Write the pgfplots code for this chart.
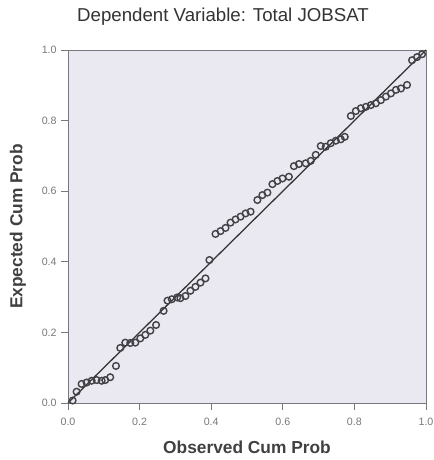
\documentclass[border=0pt]{standalone}
\usepackage{fontspec}
\setmainfont{Liberation Sans}
\usepackage{pgfplots}
\pgfplotsset{compat=1.18}
\definecolor{plotbg}{RGB}{234,232,240}
\definecolor{markc}{RGB}{65,65,70}
\definecolor{tickc}{RGB}{120,120,125}

\begin{document}
\begin{tikzpicture}
\begin{axis}[
  scale only axis,
  width=268.5pt, height=264.75pt,
  xmin=0, xmax=1, ymin=0, ymax=1,
  xtick={0,0.2,...,1.0}, ytick={0,0.2,...,1.0},
  xticklabel style={/pgf/number format/fixed,/pgf/number format/fixed zerofill,/pgf/number format/precision=1, yshift=-3pt},
  yticklabel style={/pgf/number format/fixed,/pgf/number format/fixed zerofill,/pgf/number format/precision=1},
  /pgf/number format/assume math mode=true,
  ticklabel style={font=\fontsize{8}{9}\selectfont, text=tickc},
  tick align=outside, xtick pos=bottom, ytick pos=left,
  major tick length=5pt,
  tick style={tickc, line width=0.6pt},
  axis line style={tickc, line width=0.6pt},
  axis background/.style={fill=plotbg},
  title={Dependent Variable: Total JOBSAT},
  title style={font=\fontsize{14}{16}\selectfont, text=black!80, at={(axis description cs:0.433,1)}, anchor=base, yshift=15pt},
  xlabel={\textbf{Observed Cum Prob}},
  ylabel={\textbf{Expected Cum Prob}},
  label style={font=\fontsize{13}{15}\selectfont, text=black!75},
  xlabel style={at={(axis description cs:0.5,-0.125)}, anchor=center},
  ylabel style={at={(axis description cs:-0.14,0.5)}, anchor=center},
  clip=false,
]
\addplot[color=black!80, line width=0.95pt] coordinates {(0,0) (1,1)};
\addplot[only marks, mark=o, mark size=2.5pt, mark options={draw=markc, line width=1.05pt}] coordinates {
(0.013,0.007) (0.024,0.032) (0.038,0.054) (0.052,0.058) (0.066,0.063)
(0.080,0.065) (0.094,0.063) (0.104,0.065) (0.118,0.073) (0.134,0.105)
(0.146,0.156) (0.160,0.171) (0.174,0.170) (0.188,0.171) (0.202,0.183)
(0.216,0.193) (0.230,0.205) (0.246,0.221) (0.267,0.261) (0.278,0.290)
(0.290,0.294) (0.305,0.299) (0.314,0.297) (0.328,0.303) (0.342,0.318)
(0.356,0.329) (0.370,0.341) (0.384,0.353) (0.395,0.405) (0.412,0.479)
(0.426,0.487) (0.440,0.496) (0.454,0.511) (0.468,0.520) (0.482,0.528)
(0.496,0.537) (0.510,0.542) (0.529,0.575) (0.543,0.589) (0.557,0.596)
(0.571,0.620) (0.585,0.629) (0.599,0.636) (0.617,0.641) (0.631,0.671)
(0.645,0.677) (0.664,0.679) (0.678,0.686) (0.692,0.703) (0.706,0.728)
(0.720,0.726) (0.734,0.736) (0.748,0.743) (0.762,0.747) (0.773,0.754)
(0.790,0.813) (0.804,0.827) (0.818,0.835) (0.832,0.839) (0.846,0.844)
(0.860,0.849) (0.874,0.858) (0.888,0.868) (0.902,0.877) (0.916,0.887)
(0.930,0.891) (0.947,0.901) (0.961,0.971) (0.975,0.980) (0.989,0.988)
};
\end{axis}
\pgfresetboundingbox
\useasboundingbox (-51pt,-42.75pt) rectangle (273.75pt,302.25pt);
\end{tikzpicture}
\end{document}
